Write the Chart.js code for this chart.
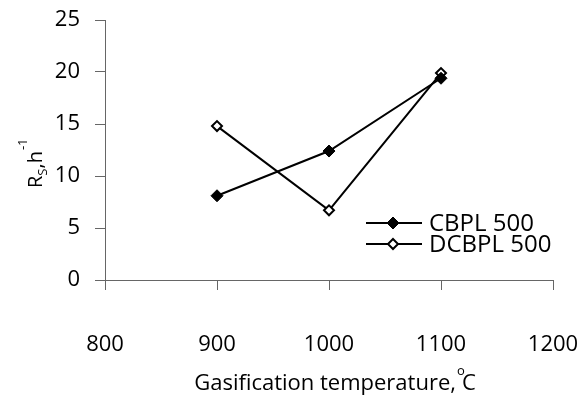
<!DOCTYPE html>
<html>
<head>
<meta charset="utf-8">
<script src="https://cdn.jsdelivr.net/npm/chart.js@4/dist/chart.umd.min.js"></script>
<style>
  html, body { margin: 0; padding: 0; background: #fff; }
  #wrap { width: 584px; height: 396px; position: relative; }
</style>
</head>
<body>
<div id="wrap"><canvas id="c" width="584" height="396"></canvas></div>
<script>
// ---- data ----
const temperatures = [900, 1000, 1100];
const cbpl500 = [8.1, 12.4, 19.4];
const dcbpl500 = [14.8, 6.7, 19.9];
const seriesNames = ['CBPL 500', 'DCBPL 500'];
const xTitleMain = 'Gasification temperature,';
const xTitleSup = 'o';
const xTitleEnd = 'C';
const yTitleParts = ['R', 'S', ',h', '-1'];

const FONT = '"Open Sans", "Liberation Sans", Arial, sans-serif';

function diamond(ctx, x, y, r, fill, stroke, lw) {
  ctx.beginPath();
  ctx.moveTo(x, y - r);
  ctx.lineTo(x + r, y);
  ctx.lineTo(x, y + r);
  ctx.lineTo(x - r, y);
  ctx.closePath();
  ctx.fillStyle = fill;
  ctx.fill();
  ctx.lineWidth = lw;
  ctx.strokeStyle = stroke;
  ctx.stroke();
}

const decorations = {
  id: 'decorations',
  afterDraw(chart) {
    const ctx = chart.ctx;
    const ca = chart.chartArea;
    ctx.save();
    ctx.fillStyle = '#000';
    ctx.textBaseline = 'alphabetic';

    // X title with superscript degree
    ctx.font = '22px ' + FONT;
    const wMain = ctx.measureText(xTitleMain).width;
    const wC = ctx.measureText(xTitleEnd).width;
    const total = wMain + 6 + wC;
    const cx = (ca.left + ca.right) / 2 + 6;
    let x0 = cx - total / 2;
    const by = ca.bottom + 110;
    ctx.textAlign = 'left';
    ctx.fillText(xTitleMain, x0, by);
    ctx.font = '13px ' + FONT;
    ctx.fillText(xTitleSup, x0 + wMain + 1, by - 15);
    ctx.font = '22px ' + FONT;
    ctx.fillText(xTitleEnd, x0 + wMain + 6, by);

    // Y title rotated, with subscript and superscript
    ctx.save();
    ctx.translate(ca.left - 63, ca.top + 168);
    ctx.rotate(-Math.PI / 2);
    ctx.textAlign = 'left';
    let px = 0;
    ctx.font = '20px ' + FONT;
    ctx.fillText(yTitleParts[0], px, 0);
    px += ctx.measureText(yTitleParts[0]).width;
    ctx.font = '13px ' + FONT;
    ctx.fillText(yTitleParts[1], px, 5);
    px += ctx.measureText(yTitleParts[1]).width;
    ctx.font = '20px ' + FONT;
    ctx.fillText(yTitleParts[2], px, 0);
    px += ctx.measureText(yTitleParts[2]).width + 1;
    ctx.font = '13px ' + FONT;
    ctx.fillText(yTitleParts[3], px, -15);
    ctx.restore();

    // Legend inside plot
    const lx = ca.left + 261;
    const ly = ca.top + 203;
    chart.data.datasets.forEach((ds, i) => {
      const y = ly + i * 21;
      ctx.beginPath();
      ctx.moveTo(lx, y);
      ctx.lineTo(lx + 56, y);
      ctx.lineWidth = 2;
      ctx.strokeStyle = '#000';
      ctx.stroke();
      diamond(ctx, lx + 27, y, ds.pointRadius, ds.pointBackgroundColor, '#000', ds.pointBorderWidth);
      ctx.fillStyle = '#000';
      ctx.font = '24px ' + FONT;
      ctx.textBaseline = 'middle';
      ctx.textAlign = 'left';
      ctx.fillText(ds.label, lx + 63, y + 1);
    });
    ctx.restore();
  }
};

const toPts = (vals) => temperatures.map((t, i) => ({ x: t, y: vals[i] }));

function zeroPad(s) {
  s.paddingLeft = 0; s.paddingRight = 0; s.paddingTop = 0; s.paddingBottom = 0;
}

new Chart(document.getElementById('c'), {
  type: 'line',
  data: {
    datasets: [
      {
        label: seriesNames[0],
        data: toPts(cbpl500),
        borderColor: '#000',
        borderWidth: 2,
        pointStyle: 'rectRot',
        pointRadius: 6,
        pointBackgroundColor: '#000',
        pointBorderColor: '#000',
        pointBorderWidth: 1,
        tension: 0
      },
      {
        label: seriesNames[1],
        data: toPts(dcbpl500),
        borderColor: '#000',
        borderWidth: 2,
        pointStyle: 'rectRot',
        pointRadius: 5,
        pointBackgroundColor: '#fff',
        pointBorderColor: '#000',
        pointBorderWidth: 2,
        tension: 0
      }
    ]
  },
  options: {
    responsive: false,
    animation: false,
    devicePixelRatio: 1,
    layout: { padding: { left: 0, right: 31, top: 20, bottom: 0 } },
    plugins: { legend: { display: false }, tooltip: { enabled: false } },
    scales: {
      x: {
        type: 'linear',
        min: 800, max: 1200,
        afterFit(s) { s.height = 116; zeroPad(s); },
        border: { display: true, color: '#666', width: 1 },
        grid: { display: true, drawOnChartArea: false, drawTicks: true, tickLength: 10, color: '#666' },
        ticks: { stepSize: 100, color: '#000', padding: 42, font: { family: FONT, size: 22 }, callback: v => String(v) }
      },
      y: {
        min: 0, max: 25,
        afterFit(s) { s.width = 105; zeroPad(s); },
        border: { display: true, color: '#666', width: 1 },
        grid: { display: true, drawOnChartArea: false, drawTicks: true, tickLength: 10, color: '#666' },
        ticks: { stepSize: 5, color: '#000', padding: 15, font: { family: FONT, size: 22 }, callback: v => String(v) }
      }
    }
  },
  plugins: [decorations]
});
</script>
</body>
</html>
